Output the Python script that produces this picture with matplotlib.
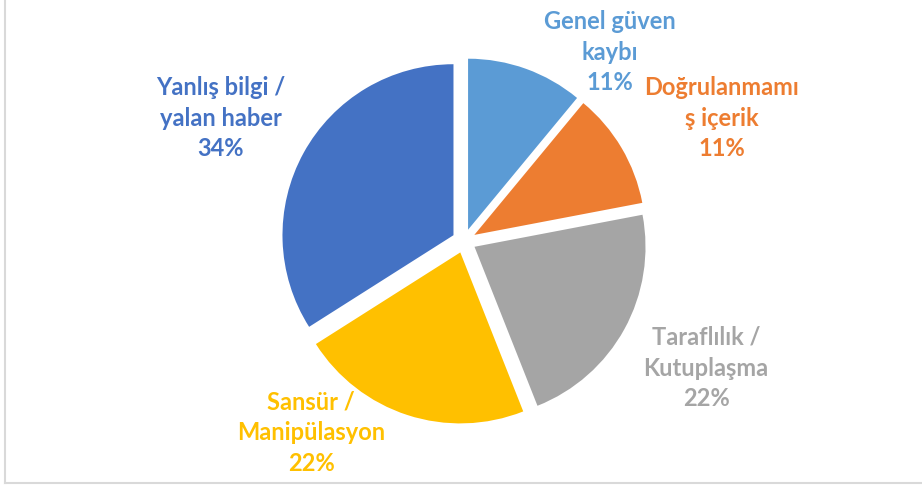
import matplotlib
matplotlib.use("Agg")
import matplotlib.pyplot as plt
from matplotlib.lines import Line2D

categories = ["Genel güven\nkaybı", "Doğrulanmamı\nş içerik", "Taraflılık /\nKutuplaşma",
              "Sansür /\nManipülasyon", "Yanlış bilgi /\nyalan haber"]
shares = [11, 11, 22, 22, 34]
colors = ["#5B9BD5", "#ED7D31", "#A5A5A5", "#FFC000", "#4472C4"]

# label centres in pixel coords (layout only)
label_pos = [(610, 488 - 52), (722, 488 - 118), (706, 488 - 368), (311, 488 - 433), (221, 488 - 118)]

W, H = 922, 488
R = 171
fig = plt.figure(figsize=(W / 100, H / 100), dpi=100)
ax = fig.add_axes([0, 0, 1, 1])
ax.axis("off")

# explode is in data units here (pixels)
ax.pie(shares, colors=colors, startangle=90, counterclock=False,
       center=(464, H - 241), radius=R, explode=[12] * len(shares),
       wedgeprops=dict(linewidth=0))
ax.set_xlim(0, W)
ax.set_ylim(0, H)
ax.set_aspect("equal")

for cat, val, col, (x, y) in zip(categories, shares, colors, label_pos):
    ax.text(x, y, "{}\n{}%".format(cat, val), color=col, ha="center", va="center",
            fontsize=17, fontweight="bold", family="Lato", linespacing=1.4)

# chart frame (left and bottom visible)
fig.add_artist(Line2D([5 / W, 5 / W], [5 / H, 1], color="#D9D9D9", lw=1.5, transform=fig.transFigure))
fig.add_artist(Line2D([5 / W, 1], [5 / H, 5 / H], color="#D9D9D9", lw=1.5, transform=fig.transFigure))

fig.savefig("out.png", dpi=100)
